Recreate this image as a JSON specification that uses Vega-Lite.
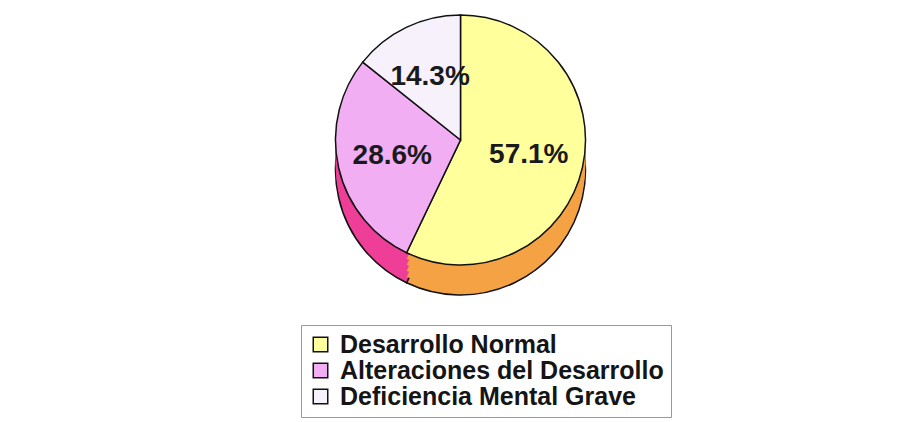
{
  "$schema": "https://vega.github.io/schema/vega-lite/v6.json",
  "width": 909,
  "height": 270,
  "padding": {"left": 6, "top": 5, "right": 4, "bottom": 0},
  "background": "white",
  "config": {"view": {"stroke": null}, "font": "Liberation Sans"},
  "data": {
    "values": [
      {"categoria": "Desarrollo Normal", "valor": 0.571, "orden": 1},
      {"categoria": "Alteraciones del Desarrollo", "valor": 0.286, "orden": 2},
      {"categoria": "Deficiencia Mental Grave", "valor": 0.143, "orden": 3}
    ]
  },
  "encoding": {
    "theta": {"field": "valor", "type": "quantitative", "stack": true},
    "order": {"field": "orden", "type": "quantitative"}
  },
  "resolve": {"scale": {"color": "independent"}, "legend": {"color": "independent"}},
  "layer": [
    {
      "mark": {"type": "arc", "outerRadius": 125, "yOffset": 30, "stroke": "#111", "strokeWidth": 1.5},
      "encoding": {
        "color": {"field": "categoria", "type": "nominal", "legend": null,
          "scale": {"domain": ["Desarrollo Normal", "Alteraciones del Desarrollo", "Deficiencia Mental Grave"], "range": ["#F4A244", "#EE3E97", "#D9CCE3"]}}
      }
    },
    {
      "mark": {"type": "arc", "outerRadius": 125, "yOffset": 24},
      "encoding": {"color": {"field": "categoria", "type": "nominal", "legend": null,
          "scale": {"domain": ["Desarrollo Normal", "Alteraciones del Desarrollo", "Deficiencia Mental Grave"], "range": ["#F4A244", "#EE3E97", "#D9CCE3"]}}}
    },
    {
      "mark": {"type": "arc", "outerRadius": 125, "yOffset": 18},
      "encoding": {"color": {"field": "categoria", "type": "nominal", "legend": null,
          "scale": {"domain": ["Desarrollo Normal", "Alteraciones del Desarrollo", "Deficiencia Mental Grave"], "range": ["#F4A244", "#EE3E97", "#D9CCE3"]}}}
    },
    {
      "mark": {"type": "arc", "outerRadius": 125, "yOffset": 12},
      "encoding": {"color": {"field": "categoria", "type": "nominal", "legend": null,
          "scale": {"domain": ["Desarrollo Normal", "Alteraciones del Desarrollo", "Deficiencia Mental Grave"], "range": ["#F4A244", "#EE3E97", "#D9CCE3"]}}}
    },
    {
      "mark": {"type": "arc", "outerRadius": 125, "yOffset": 6},
      "encoding": {"color": {"field": "categoria", "type": "nominal", "legend": null,
          "scale": {"domain": ["Desarrollo Normal", "Alteraciones del Desarrollo", "Deficiencia Mental Grave"], "range": ["#F4A244", "#EE3E97", "#D9CCE3"]}}}
    },
    {
      "mark": {"type": "arc", "outerRadius": 125, "stroke": "#111", "strokeWidth": 1.5},
      "encoding": {
        "color": {"field": "categoria", "type": "nominal", "sort": null,
          "scale": {"domain": ["Desarrollo Normal", "Alteraciones del Desarrollo", "Deficiencia Mental Grave"], "range": ["#FFFF9C", "#F2AEF2", "#F7F1FB"]},
          "legend": {
            "title": null,
            "orient": "none",
            "legendX": 295,
            "legendY": 320,
            "direction": "vertical",
            "symbolType": "square",
            "symbolSize": 210,
            "symbolStrokeColor": "#111",
            "symbolStrokeWidth": 1.5,
            "symbolOpacity": 1,
            "labelFont": "Liberation Sans",
            "labelFontWeight": "bold",
            "labelFontSize": 25,
            "labelColor": "#151515",
            "labelOffset": 7,
            "labelLimit": 500,
            "rowPadding": 0,
            "padding": 7,
            "strokeColor": "#999",
            "fillColor": "white"
          }
        }
      }
    },
    {
      "mark": {"type": "text", "radius": 70, "font": "Liberation Sans", "fontWeight": "bold", "fontSize": 28, "fill": "#1a1a1a"},
      "encoding": {
        "text": {"field": "valor", "type": "quantitative", "format": ".1%"}
      }
    }
  ]
}
